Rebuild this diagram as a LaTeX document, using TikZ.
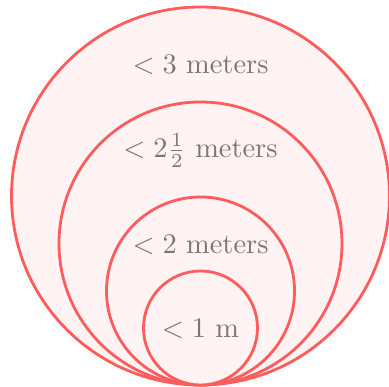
\documentclass[tikz,border=0pt]{standalone}
\usepackage{amsmath,graphicx}
\usepackage{tikz}
\definecolor{ringred}{RGB}{255,92,92}
\definecolor{ringfill}{RGB}{255,243,243}
\definecolor{labgray}{RGB}{125,117,117}
\newcommand{\tavtxt}[1]{\scalebox{2.84}{#1}}
\tikzset{
  ring/.style={circle,draw=ringred,line width=2.8pt,fill=ringfill,inner sep=0pt},
  dist/.style={anchor=base,text=labgray,inner sep=0pt},
}
\begin{document}
\begin{tikzpicture}[x=1pt,y=1pt]
  \useasboundingbox (0,0) rectangle (389,387);
  % ringek, kozos also erintesi ponttal
  \node[ring,minimum size=378pt] (r3) at (200.5,191) {};
  \node[ring,minimum size=283pt] (r25) at (200.5,143.5) {};
  \node[ring,minimum size=188pt] (r2) at (200.5,96) {};
  \node[ring,minimum size=114pt] (r1) at (200.5,59) {};
  % cimkek
  \node[dist] (l3) at (200.5,313) {\tavtxt{$<3$ meters}};
  \node[dist] (l25) at (200.5,229) {\tavtxt{$<2\frac{1}{2}$\ meters}};
  \node[dist] (l2) at (200.5,133) {\tavtxt{$<2$ meters}};
  \node[dist] (l1) at (200.5,49) {\tavtxt{$<1$ m}};
\end{tikzpicture}
\end{document}
